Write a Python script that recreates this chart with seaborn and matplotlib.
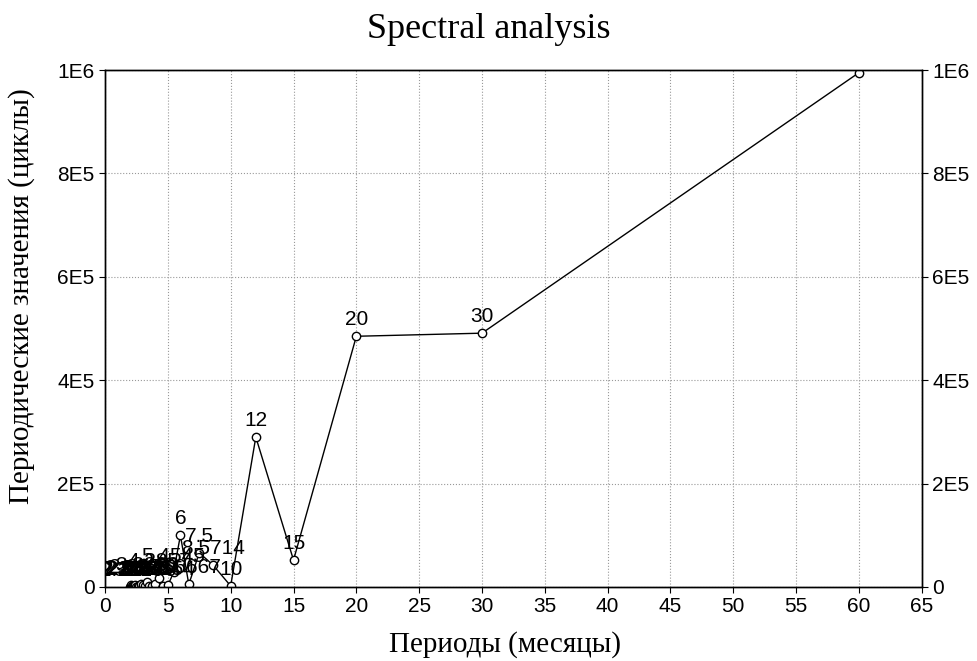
import numpy as np
import pandas as pd
import matplotlib
matplotlib.use('Agg')
import matplotlib.pyplot as plt
import seaborn as sns

# Периоды (60 / k) и значения периодограммы
periods = [60, 30, 20, 15, 12, 10, 8.5714, 7.5, 6.6667, 6,
           5.4545, 5, 4.6154, 4.2857, 4, 3.75, 3.5294, 3.3333, 3.1579, 3,
           2.8571, 2.7273, 2.6087, 2.5, 2.4, 2.3077, 2.2222, 2.1429, 2.069, 2]
values = [995000, 491000, 485000, 52000, 290000, 2000, 43000, 66000, 5000, 100000,
          28000, 3000, 2000, 18000, 5000, 1500, 2500, 9000, 1000, 3000,
          6000, 1200, 2000, 800, 4000, 1500, 2500, 1000, 3000, 500]
point_labels = ['60', '30', '20', '15', '12', '10', '8.5714', '7.5', '6.6667', '6',
                '5.4545', '5', '4.6154', '4.2857', '4', '3.75', '3.5294', '3.3333', '3.1579', '3',
                '2.8571', '2.7273', '2.6087', '2.5', '2.4', '2.3077', '2.2222', '2.1429', '2.069', '2']

x_ticks = [0, 5, 10, 15, 20, 25, 30, 35, 40, 45, 50, 55, 60, 65]
y_ticks = [0, 200000, 400000, 600000, 800000, 1000000]
y_tick_labels = ['0', '2E5', '4E5', '6E5', '8E5', '1E6']

df = pd.DataFrame({'Period': periods, 'Value': values})

sns.set_style('ticks')
plt.rcParams['font.family'] = ['Liberation Sans', 'DejaVu Sans']

fig = plt.figure(figsize=(9.77, 6.61), dpi=100)
ax = fig.add_axes([0.1075, 0.112, 0.836, 0.782])

sns.lineplot(data=df, x='Period', y='Value', ax=ax, color='black', linewidth=1,
             marker='o', markersize=6, markerfacecolor='white',
             markeredgecolor='black', markeredgewidth=1, sort=True)

# подписи точек (обрезаются по границе графика)
for p, v, lbl in zip(periods, values, point_labels):
    ax.annotate(lbl, (p, v), xytext=(0, 5), textcoords='offset points',
                ha='center', va='bottom', fontsize=15, color='black', clip_on=True)

ax.set_xlim(0, 65)
ax.set_ylim(0, 1000000)
ax.set_xticks(x_ticks)
ax.set_xticklabels([str(t) for t in x_ticks])
ax.set_yticks(y_ticks)
ax.set_yticklabels(y_tick_labels)
ax.tick_params(direction='out', length=4, labelsize=15, colors='black')
ax.grid(True, linestyle=':', color='#999999', linewidth=0.8)
for s in ax.spines.values():
    s.set_visible(True)
    s.set_color('black')
    s.set_linewidth(1)

ax2 = ax.twinx()
ax2.set_ylim(0, 1000000)
ax2.set_yticks(y_ticks)
ax2.set_yticklabels(y_tick_labels)
ax2.tick_params(direction='out', length=4, labelsize=15, colors='black')
for s in ax2.spines.values():
    s.set_color('black')
    s.set_linewidth(1)

serif = ['Liberation Serif', 'DejaVu Serif']
ax.set_xlabel('Периоды (месяцы)', fontsize=21, family=serif, color='black')
ax.set_ylabel('Периодические значения (циклы)', fontsize=21, family=serif, color='black')
ax.xaxis.set_label_coords(0.49, -0.085)
ax.yaxis.set_label_coords(-0.086, 0.563)
fig.text(0.5, 0.955, 'Spectral analysis', ha='center', va='center', fontsize=26,
         family=serif, color='black')

plt.savefig('out.png', dpi=100)
